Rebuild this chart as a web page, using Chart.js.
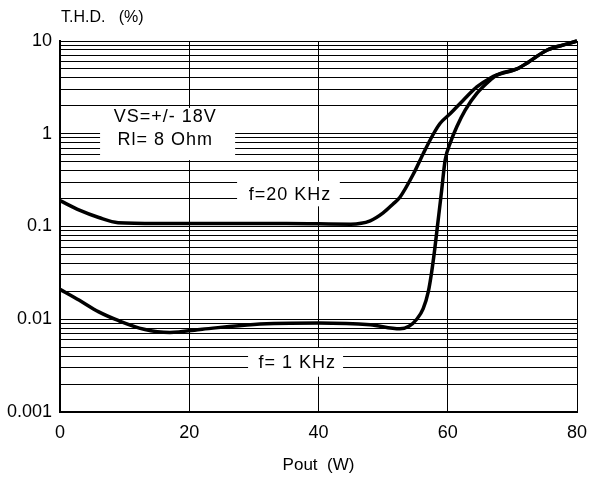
<!DOCTYPE html>
<html>
<head>
<meta charset="utf-8">
<script src="https://cdn.jsdelivr.net/npm/chart.js@4.4.0/dist/chart.umd.min.js"></script>
<style>
  html, body { margin: 0; padding: 0; background: #fff; }
  #wrap { width: 589px; height: 480px; }
</style>
</head>
<body>
<div id="wrap"><canvas id="thdChart" width="589" height="480"></canvas></div>
<script>
// Pout (W) / THD (%)
const pout20k = [0, 3, 6, 9, 15, 25, 35, 45, 48, 50, 51.5, 52.6, 54.7, 56.2, 57.8, 58.8, 60.4, 62.4, 64.5, 66.6, 67.6, 70.7, 72.3, 75.4, 78.5, 80];
const thd20k  = [0.19, 0.15, 0.125, 0.11, 0.108, 0.108, 0.108, 0.106, 0.115, 0.14, 0.174, 0.207, 0.37, 0.61, 1.0, 1.29, 1.65, 2.3, 3.2, 4.0, 4.3, 5.0, 5.8, 8.0, 9.3, 10];

const pout1k = [0, 3, 6, 9, 13, 17, 22, 30, 40, 48, 52.6, 54, 55.2, 56.2, 57, 57.5, 58, 58.4, 59, 59.6, 60.4, 61.4, 62.7, 64.5, 66.6, 67.6, 70.7, 72.3, 75.4, 78.5, 80];
const thd1k  = [0.021, 0.016, 0.012, 0.0097, 0.0078, 0.0072, 0.0078, 0.0088, 0.0091, 0.0087, 0.0079, 0.0084, 0.01, 0.013, 0.02, 0.032, 0.058, 0.1, 0.226, 0.52, 0.8, 1.19, 1.8, 2.72, 3.8, 4.3, 5.0, 5.8, 8.0, 9.3, 10];

const xTicks = [0, 20, 40, 60, 80];
const decades = [0.001, 0.01, 0.1, 1, 10];
const decadeLabels = ['0.001', '0.01', '0.1', '1', '10'];

// text boxes on the graph: [x from, x to, y from, y to] in data units
const notes = [
    { lines: ['VS=+/- 18V', 'Rl= 8 Ohm'], box: [6.2, 27.1, 0.52, 1.9], at: [[16.3, 1.5], [16.3, 0.85]] },
    { lines: ['f=20 KHz'], box: [27.4, 43.3, 0.165, 0.31], at: [[35.6, 0.22]] },
    { lines: ['f= 1 KHz'], box: [29.1, 43.8, 0.0024, 0.0049], at: [[36.7, 0.0034]] }
];

const toXY = (xs, ys) => xs.map((x, i) => ({ x: x, y: ys[i] }));

// minor grid: 1..9 in every decade
const yGrid = [];
decades.forEach((d, i) => {
    if (i === decades.length - 1) { yGrid.push(d); return; }
    for (let k = 1; k <= 9; k++) yGrid.push(+(d * k).toPrecision(3));
});

const FONT = '"Liberation Sans", Arial, sans-serif';

const notesPlugin = {
    id: 'notes',
    beforeDatasetsDraw(chart) {
        const { ctx, scales: { x, y } } = chart;
        ctx.save();
        notes.forEach(n => {
            const x0 = x.getPixelForValue(n.box[0]), x1 = x.getPixelForValue(n.box[1]);
            const y0 = y.getPixelForValue(n.box[3]), y1 = y.getPixelForValue(n.box[2]);
            ctx.fillStyle = '#fff';
            ctx.fillRect(x0, y0, x1 - x0, y1 - y0);
            ctx.fillStyle = '#000';
            ctx.font = '18px ' + FONT;
            ctx.letterSpacing = '1px';
            ctx.textAlign = 'center';
            ctx.textBaseline = 'middle';
            n.lines.forEach((t, i) => {
                ctx.fillText(t, x.getPixelForValue(n.at[i][0]), y.getPixelForValue(n.at[i][1]));
            });
        });
        ctx.restore();
    },
    afterDraw(chart) {
        const { ctx, chartArea } = chart;
        ctx.save();
        ctx.fillStyle = '#000';
        ctx.font = '16px ' + FONT;
        ctx.textBaseline = 'middle';
        ctx.textAlign = 'left';
        ctx.fillText('T.H.D.   (%)', 61, 18);
        ctx.font = '17px ' + FONT;
        ctx.textAlign = 'center';
        ctx.fillText('Pout  (W)', (chartArea.left + chartArea.right) / 2, 465);
        ctx.restore();
    }
};

const lineStyle = {
    borderColor: '#000',
    borderWidth: 3.5,
    pointRadius: 0,
    fill: false,
    cubicInterpolationMode: 'monotone',
    clip: 5
};

new Chart(document.getElementById('thdChart'), {
    type: 'line',
    data: {
        datasets: [
            Object.assign({ label: 'f=20 KHz', data: toXY(pout20k, thd20k) }, lineStyle),
            Object.assign({ label: 'f=1 KHz', data: toXY(pout1k, thd1k) }, lineStyle)
        ]
    },
    options: {
        responsive: false,
        animation: false,
        layout: { padding: { top: 41, right: 12, left: 0, bottom: 0 } },
        plugins: { legend: { display: false }, tooltip: { enabled: false } },
        scales: {
            x: {
                type: 'linear',
                min: 0, max: 80,
                afterBuildTicks: s => { s.ticks = xTicks.map(v => ({ value: v })); },
                afterFit: s => { s.height = 68; s.paddingLeft = 0; s.paddingRight = 0; },
                ticks: { color: '#000', padding: 10, font: { family: FONT, size: 18 }, maxRotation: 0 },
                grid: { color: '#000', lineWidth: 1, drawTicks: false },
                border: { color: '#000', width: 2 }
            },
            y: {
                type: 'logarithmic',
                min: 0.001, max: 10,
                afterBuildTicks: s => { s.ticks = yGrid.map(v => ({ value: v, major: decades.includes(v) })); },
                afterFit: s => { s.width = 60; s.paddingTop = 0; s.paddingBottom = 0; },
                ticks: {
                    color: '#000',
                    padding: 8,
                    autoSkip: false,
                    font: { family: FONT, size: 18 },
                    callback: v => {
                        const i = decades.indexOf(v);
                        return i >= 0 ? decadeLabels[i] : '';
                    }
                },
                grid: { color: '#000', lineWidth: 1, drawTicks: false },
                border: { color: '#000', width: 2 }
            }
        }
    },
    plugins: [notesPlugin]
});
</script>
</body>
</html>
